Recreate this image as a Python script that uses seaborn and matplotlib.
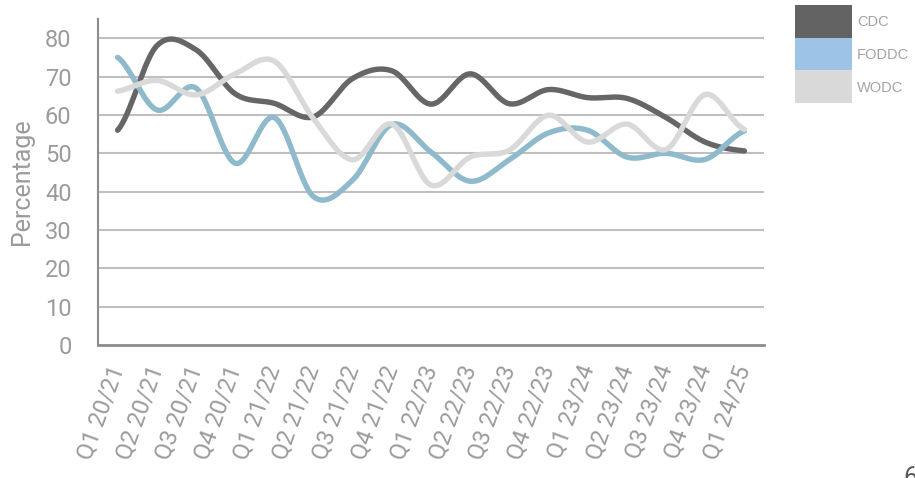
import numpy as np
import pandas as pd
import matplotlib
matplotlib.use("Agg")
import matplotlib.pyplot as plt
from matplotlib.patches import Rectangle
import seaborn as sns

# ---- data ----
quarters = ["Q1 20/21", "Q2 20/21", "Q3 20/21", "Q4 20/21",
            "Q1 21/22", "Q2 21/22", "Q3 21/22", "Q4 21/22",
            "Q1 22/23", "Q2 22/23", "Q3 22/23", "Q4 22/23",
            "Q1 23/24", "Q2 23/24", "Q3 23/24", "Q4 23/24",
            "Q1 24/25"]
cdc = [56, 78, 77, 65.5, 63, 59.5, 69.5, 71.5, 62.8, 70.7, 62.9, 66.6,
       64.5, 64.3, 59.3, 52.9, 50.6]
foddc = [75, 61.3, 67, 47.4, 59.3, 38.7, 43, 57.5, 50.3, 42.7, 48.3, 55.3,
         56, 49, 50, 48.4, 55.8]
wodc = [66.2, 69, 65.2, 70.7, 74, 59, 48.3, 57.6, 41.7, 49, 50.8, 59.9,
        52.9, 57.6, 51, 65.3, 56.2]
series_names = ["CDC", "FODDC", "WODC"]
series_values = [cdc, foddc, wodc]
line_colors = ["#666666", "#8EBACB", "#D9D9D9"]
legend_colors = ["#636363", "#9DC3E6", "#D9D9D9"]
y_ticks = [0, 10, 20, 30, 40, 50, 60, 70, 80]


def smooth(values, n=30):
    """Excel-like smoothed line (Catmull-Rom through each data point)."""
    y = np.asarray(values, dtype=float)
    k = len(y)
    xs, ys = [], []
    for i in range(k - 1):
        p0 = y[i - 1] if i > 0 else y[i]
        p3 = y[i + 2] if i + 2 < k else y[i + 1]
        p1, p2 = y[i], y[i + 1]
        m1 = (p2 - p0) / 2.0
        m2 = (p3 - p1) / 2.0
        t = np.linspace(0, 1, n, endpoint=(i == k - 2))
        h00 = 2 * t**3 - 3 * t**2 + 1
        h10 = t**3 - 2 * t**2 + t
        h01 = -2 * t**3 + 3 * t**2
        h11 = t**3 - t**2
        xs.append(i + t)
        ys.append(h00 * p1 + h10 * m1 + h01 * p2 + h11 * m2)
    return np.concatenate(xs), np.concatenate(ys)


frames = []
for name, vals in zip(series_names, series_values):
    xs, ys = smooth(vals)
    frames.append(pd.DataFrame({"x": xs, "y": ys, "series": name}))
df = pd.concat(frames, ignore_index=True)

sns.set_theme(style="white")
plt.rcParams["font.family"] = ["Roboto", "DejaVu Sans"]

text_color = "#9B9B9B"
fig = plt.figure(figsize=(9.15, 4.78), dpi=100)
ax = fig.add_axes([98 / 915, 1 - 345 / 478, (764 - 98) / 915, (345 - 19) / 478])

for yv in y_ticks[1:]:
    ax.axhline(yv, color="#BFBFBF", lw=1.5, zorder=0)

sns.lineplot(data=df, x="x", y="y", hue="series", hue_order=series_names,
             palette=dict(zip(series_names, line_colors)), sort=False,
             estimator=None, linewidth=3.9, legend=False, ax=ax)
for ln in ax.get_lines():
    ln.set_solid_capstyle("round")
    ln.set_solid_joinstyle("round")

ax.set_xlim(-0.5, len(quarters) - 0.5)
ax.set_ylim(0, 85)
ax.set_yticks(y_ticks)
ax.set_yticklabels([str(v) for v in y_ticks])
ax.set_xticks(range(len(quarters)))
ax.set_xticklabels(quarters, rotation=70, ha="right", va="center",
                   rotation_mode="anchor")
ax.tick_params(axis="both", length=0, labelsize=17, labelcolor=text_color)
ax.tick_params(axis="y", pad=19)
ax.tick_params(axis="x", pad=15)
ax.set_xlabel("")
ax.set_ylabel("Percentage", fontsize=18, color=text_color, labelpad=8)

for side in ["top", "right"]:
    ax.spines[side].set_visible(False)
ax.spines["left"].set_color("#8C8C8C")
ax.spines["left"].set_linewidth(1.5)
ax.spines["bottom"].set_color("#8C8C8C")
ax.spines["bottom"].set_linewidth(2)

# legend: stacked colour blocks with labels
W, H = 915, 478
x0, y0, bw, bh = 795, 5, 57, 32.7
for i, (name, col) in enumerate(zip(series_names, legend_colors)):
    top = y0 + i * bh
    fig.add_artist(Rectangle((x0 / W, 1 - (top + bh) / H), bw / W, bh / H,
                             transform=fig.transFigure, facecolor=col,
                             edgecolor="none"))
    fig.text((x0 + bw + 5) / W, 1 - (top + bh / 2 + 1) / H, name,
             fontsize=10.5, color="#A3A3A3", va="center", ha="left",
             family=["Liberation Sans", "DejaVu Sans"])

fig.text(903 / W, 1 - 466 / H, "6", fontsize=18, color="#5A5A5A",
         va="top", ha="left")

fig.savefig("out.png", dpi=100)
